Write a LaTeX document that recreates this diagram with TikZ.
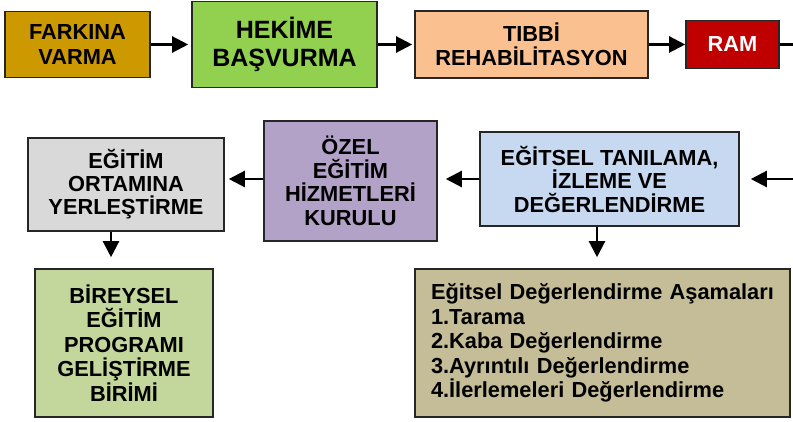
\documentclass[tikz,border=0pt]{standalone}
\usepackage{fontspec}
\setmainfont{Liberation Sans}
\usetikzlibrary{arrows.meta}
\definecolor{cfar}{HTML}{CC9900}
\definecolor{chek}{HTML}{92D050}
\definecolor{ctib}{HTML}{FAC090}
\definecolor{cram}{HTML}{C00000}
\definecolor{cege}{HTML}{D9D9D9}
\definecolor{cozel}{HTML}{B3A2C7}
\definecolor{ctan}{HTML}{C6D9F1}
\definecolor{cbir}{HTML}{C3D69B}
\definecolor{ceval}{HTML}{C4BD97}
\tikzset{
  box/.style={draw=black!85, line width=1.6pt, rectangle, align=center, inner sep=0pt,
    font=\fontsize{21.8}{24.5}\selectfont\bfseries},
  arr/.style={line width=2.3pt, -{Triangle[length=16pt,width=16pt]}},
  plain/.style={line width=2.3pt}
}
\begin{document}
\begin{tikzpicture}[x=1pt,y=-1pt]
\useasboundingbox (0,0) rectangle (793,422);
% row 1
\node[box, fill=cfar, minimum width=145pt, minimum height=66pt] (far) at (77.5,44.5) {FARKINA\\VARMA};
\node[box, fill=chek, minimum width=185pt, minimum height=86pt, font=\fontsize{25}{28.5}\selectfont\bfseries] (hek) at (284.5,44.5) {HEKİME\\BAŞVURMA};
\node[box, fill=ctib, minimum width=233pt, minimum height=67pt] (tib) at (531.5,44.5) {TIBBİ\\REHABİLİTASYON};
\node[box, fill=cram, minimum width=93pt, minimum height=48pt, text=white] (ram) at (732.5,44.5) {RAM};
\coordinate (r1end) at (793,44.5);
% row 2
\node[box, fill=cege, minimum width=196pt, minimum height=93pt, font=\fontsize{21.8}{23}\selectfont\bfseries] (ege) at (126,184.5) {EĞİTİM\\ORTAMINA\\YERLEŞTİRME};
\node[box, fill=cozel, minimum width=173pt, minimum height=120pt, font=\fontsize{21.8}{23.5}\selectfont\bfseries] (ozel) at (350.5,181) {ÖZEL\\EĞİTİM\\HİZMETLERİ\\KURULU};
\node[box, fill=ctan, minimum width=259pt, minimum height=94pt, font=\fontsize{21.8}{23.5}\selectfont\bfseries] (tan) at (609.5,179) {EĞİTSEL TANILAMA,\\İZLEME VE\\DEĞERLENDİRME};
\coordinate (r2start) at (793,179);
% row 3
\node[box, fill=cbir, minimum width=178pt, minimum height=148pt] (bir) at (124,343) {BİREYSEL\\EĞİTİM\\PROGRAMI\\GELİŞTİRME\\BİRİMİ};
\node[box, fill=ceval, minimum width=375pt, minimum height=148pt, text width=343pt, align=left, inner xsep=16pt] (eval) at (602.5,343) {Eğitsel Değerlendirme Aşamaları\\1.Tarama\\2.Kaba Değerlendirme\\3.Ayrıntılı Değerlendirme\\4.İlerlemeleri Değerlendirme};
% connectors row 1
\draw[arr, shorten >=3pt] (far.east) -- (hek.west);
\draw[arr, shorten >=2pt] (hek.east) -- (tib.west);
\draw[arr] (tib.east) -- (ram.west);
\draw[plain] (ram.east) -- (r1end);
% connectors row 2
\draw[arr, shorten >=11pt] (r2start) -- (tan.east);
\draw[arr, shorten >=8pt] (tan.west) -- (ozel.east |- tan.west);
\draw[arr, shorten >=4pt] (ozel.west |- tan.west) -- (ege.east |- tan.west);
% down arrows
\draw[arr, shorten >=11pt] ([xshift=-15pt]ege.south) -- ([xshift=-15pt]ege.south |- bir.north);
\draw[arr, shorten >=11pt] ([xshift=-12.5pt]tan.south) -- ([xshift=-12.5pt]tan.south |- eval.north);
\end{tikzpicture}
\end{document}
